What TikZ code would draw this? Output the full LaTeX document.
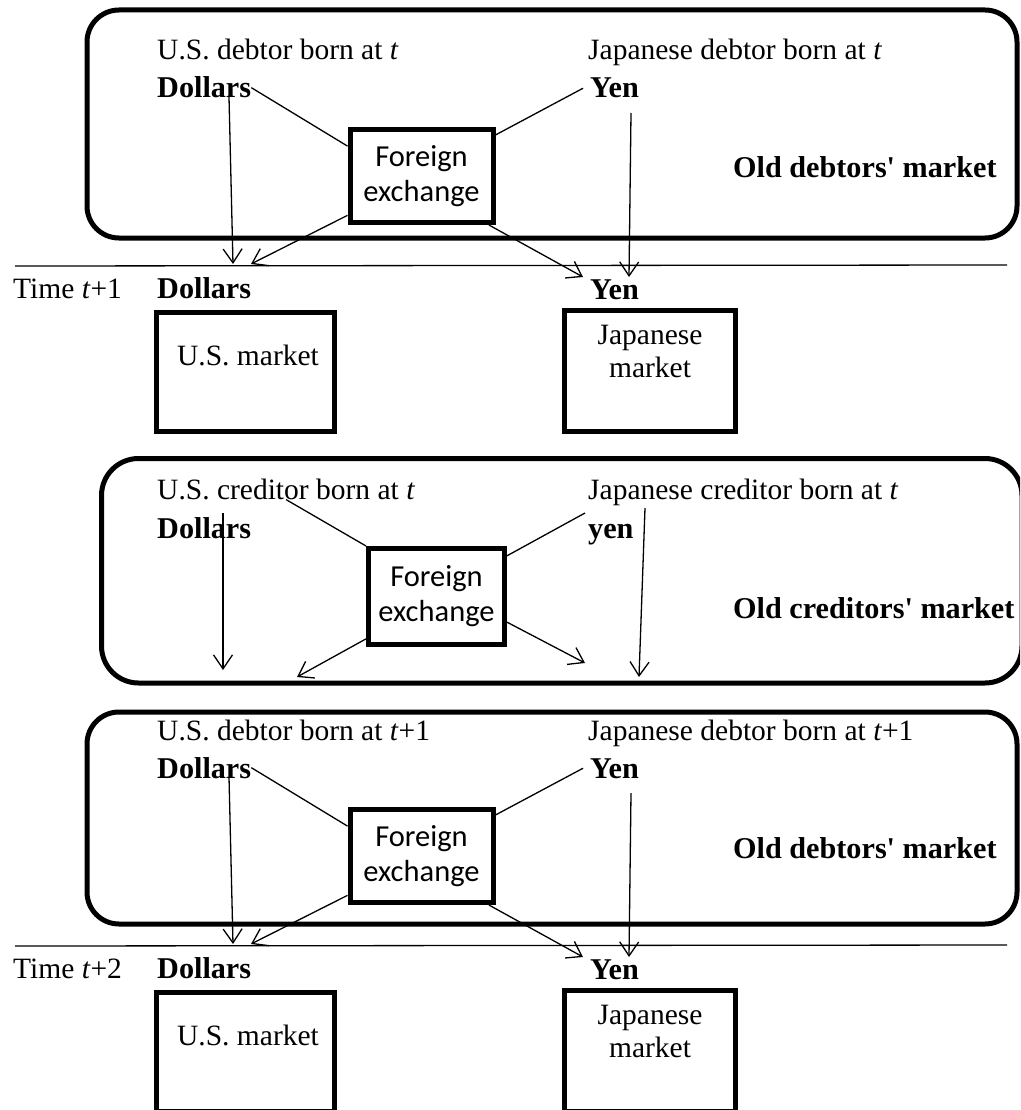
\documentclass[tikz,border=0pt]{standalone}
\usepackage{fontspec}
\setmainfont{Liberation Serif}
\newfontfamily\calibri{Carlito}
\usetikzlibrary{arrows.meta}

\begin{document}
\begin{tikzpicture}[x=1pt,y=-1pt,
        every node/.style={inner sep=0pt,font=\fontsize{29.5}{33}\selectfont},
        lab/.style={anchor=base west},
        blab/.style={anchor=base west,font=\fontsize{30.2}{33}\selectfont\bfseries},
        panel/.style={line width=5pt,rounded corners=32pt},
        mkt/.style={draw,line width=5pt},
        fxbox/.style={draw,line width=5pt,align=center,font=\calibri\fontsize{30.5}{35}\selectfont},
        conn/.style={line width=1.3pt},
        flow/.style={conn,-{Straight Barb[length=14pt,width=19pt]}}
    ]
    \useasboundingbox (0,0) rectangle (1020,1110);
    \clip (0,0) rectangle (1020,1110);

    \foreach \i/\dy/\ptop/\pbot/\born/\nxt in {1/0/10/238/{\textit{t}}/{\textit{t}+1},2/680/32/244/{\textit{t}+1}/{\textit{t}+2}} {
        \begin{scope}[shift={(0,\dy)}]
            \draw[panel] (87,\ptop) rectangle (1017,\pbot);
            \node[lab] (usd\i) at (157,60) {U.S. debtor born at \born};
            \node[blab] (dol\i) at (157,98) {Dollars};
            \node[lab] (jpd\i) at (588,60) {Japanese debtor born at \born};
            \node[blab] (yen\i) at (590,98) {Yen};
            \node[blab] (old\i) at (733,178) {Old debtors\textquotesingle{} market};
            \node[fxbox,minimum width=143pt,minimum height=93pt] (fx\i) at (421.5,176) {Foreign\\exchange};

            \coordinate (da\i) at (229,97);
            \coordinate (db\i) at (233,264);
            \coordinate (ya\i) at (631,113);
            \coordinate (yb\i) at (629,277);
            \coordinate (xd\i) at (251,264);
            \coordinate (xy\i) at (583,277);
            \coordinate (la\i) at (15,266);
            \coordinate (lb\i) at (1007,265);

            \draw[conn] (dol\i.east) -- (fx\i.158);
            \draw[conn] ([xshift=-7pt]yen\i.west) -- (fx\i.29);
            \draw[flow] (da\i) -- (db\i);
            \draw[flow] (ya\i) -- (yb\i);
            \draw[flow] (fx\i.208) -- (xd\i);
            \draw[flow] (fx\i.324) -- (xy\i);
            \draw[conn] (la\i) -- (lb\i);

            \node[lab] (time\i) at (13,298) {Time \nxt};
            \node[blab] (dolb\i) at (157,298) {Dollars};
            \node[blab] (yenb\i) at (590,299) {Yen};
            \node[mkt,minimum width=178pt,minimum height=119pt] (usm\i) at (245.5,372) {};
            \node[anchor=base] (ust\i) at (248,365) {U.S. market};
            \node[mkt,minimum width=171pt,minimum height=121pt] (jpm\i) at (650,371) {};
            \node[align=center,anchor=north] (jpt\i) at (650,325) {Japanese\\market};
        \end{scope}
    }

    \draw[panel,rounded corners=37pt] (101.5,458.5) rectangle (1022,683);
    \node[lab] (usc) at (157,499) {U.S. creditor born at \textit{t}};
    \node[blab] (dolc) at (157,538) {Dollars};
    \node[lab] (jpc) at (588,499) {Japanese creditor born at \textit{t}};
    \node[blab] (yenc) at (588,538) {yen};
    \node[blab] (oldc) at (733,618) {Old creditors\textquotesingle{} market};
    \node[fxbox,minimum width=136pt,minimum height=96pt] (fxc) at (436.5,596.5) {Foreign\\exchange};

    \coordinate (ca) at (223,513);
    \coordinate (cb) at (223,670);
    \coordinate (ua) at (585,513);
    \coordinate (ea) at (645,508);
    \coordinate (eb) at (639,677);
    \coordinate (cl) at (297,677);
    \coordinate (cr) at (585,663);

    \draw[conn] (usc.south) -- (fxc.north west);
    \draw[conn] (ua) -- (fxc.30);
    \draw[flow] (ca) -- (cb);
    \draw[flow] (ea) -- (eb);
    \draw[flow] (fxc.211) -- (cl);
    \draw[flow] (fxc.340) -- (cr);
\end{tikzpicture}
\end{document}
